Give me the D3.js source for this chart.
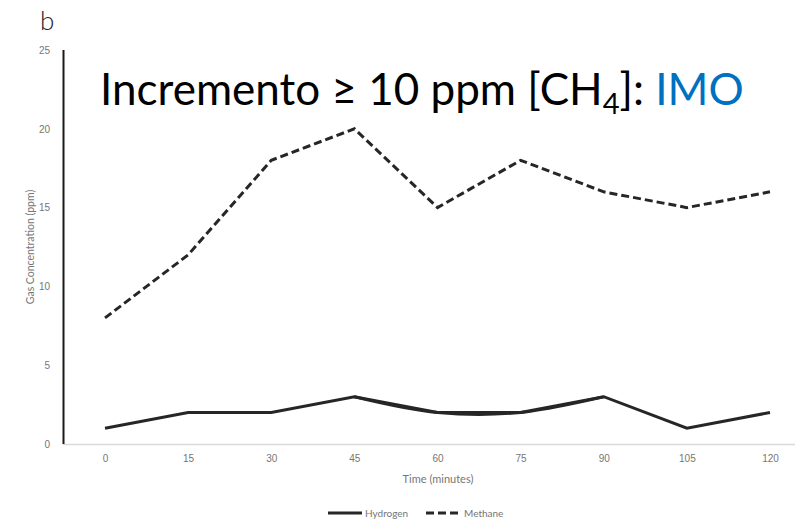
<!doctype html>
<html>
  <head>
    <script src="https://cdn.jsdelivr.net/npm/d3@7"></script>
    <style>
      body { margin: 0; background: #ffffff; }
      svg { font-family: Lato, "Open Sans", sans-serif; }
      .tick text { fill: #767676; font-size: 10px; }
    </style>
    <script>
      // データ
      var times = ["0", "15", "30", "45", "60", "75", "90", "105", "120"];
      var hydrogen = [1, 2, 2, 3, 2, 2, 3, 1, 2];
      var methane = [8, 12, 18, 20, 15, 18, 16, 15, 16];
      var yTicks = [0, 5, 10, 15, 20, 25];
      // 45〜90分の水素の重ね線（元画像の手描き風の重なり）
      var hydrogenOverlayIdx = [3, 4, 5, 6];
    </script>
  </head>
  <body>
    <svg id="chart"></svg>
    <script>
      var width = 795, height = 520;
      var svg = d3.select("#chart").attr("width", width).attr("height", height);

      var x = d3.scalePoint().domain(times).range([105, 770]);
      var y = d3.scaleLinear().domain([0, 25]).range([444, 50]);

      // x軸（薄い灰色の線）
      var xAxis = svg.append("g")
        .attr("transform", "translate(0,444)")
        .call(d3.axisBottom(x).tickSize(0).tickPadding(11));
      xAxis.select(".domain").remove();
      svg.append("line")
        .attr("x1", 63).attr("x2", 795)
        .attr("y1", 444.5).attr("y2", 444.5)
        .style("stroke", "#d9d9d9").style("stroke-width", 1.5);

      // y軸
      var yAxis = svg.append("g")
        .attr("transform", "translate(63,0)")
        .call(d3.axisLeft(y).tickValues(yTicks).tickSize(0).tickPadding(13));
      yAxis.select(".domain").remove();
      svg.append("line")
        .attr("x1", 63.5).attr("x2", 63.5)
        .attr("y1", y(25)).attr("y2", y(0))
        .style("stroke", "#1a1a1a").style("stroke-width", 2);

      // 軸タイトル
      svg.append("text")
        .attr("x", 438).attr("y", 483)
        .attr("text-anchor", "middle")
        .style("font-size", "11px").style("fill", "#767676")
        .text("Time (minutes)");
      svg.append("text")
        .attr("transform", "translate(34,247) rotate(-90)")
        .attr("text-anchor", "middle")
        .style("font-size", "10.5px").style("fill", "#767676")
        .text("Gas Concentration (ppm)");

      // 線
      var line = d3.line()
        .x(function(d, i) { return x(times[i]); })
        .y(function(d) { return y(d); });

      svg.append("path").datum(methane)
        .attr("d", line)
        .style("fill", "none").style("stroke", "#262626")
        .style("stroke-width", 3).style("stroke-dasharray", "8,4");

      svg.append("path").datum(hydrogen)
        .attr("d", line)
        .style("fill", "none").style("stroke", "#262626")
        .style("stroke-width", 3);

      var overlay = d3.line()
        .curve(d3.curveCatmullRom)
        .x(function(i) { return x(times[i]); })
        .y(function(i) { return y(hydrogen[i]); });
      svg.append("path").datum(hydrogenOverlayIdx)
        .attr("d", overlay)
        .style("fill", "none").style("stroke", "#262626")
        .style("stroke-width", 3);

      // 凡例
      var legend = svg.append("g").attr("transform", "translate(0,513)");
      legend.append("line").attr("x1", 328).attr("x2", 362).attr("y1", 0).attr("y2", 0)
        .style("stroke", "#262626").style("stroke-width", 3);
      legend.append("text").attr("x", 365).attr("y", 3.5)
        .style("font-size", "10px").style("fill", "#767676").text("Hydrogen");
      legend.append("line").attr("x1", 426).attr("x2", 459).attr("y1", 0).attr("y2", 0)
        .style("stroke", "#262626").style("stroke-width", 3).style("stroke-dasharray", "8,4");
      legend.append("text").attr("x", 464).attr("y", 3.5)
        .style("font-size", "10px").style("fill", "#767676").text("Methane");

      // パネルラベルと注釈
      svg.append("text").attr("x", 40).attr("y", 30)
        .style("font-size", "26px").style("font-weight", 300).style("fill", "#222").text("b");

      var note = svg.append("text").attr("x", 100).attr("y", 105)
        .style("font-size", "44px").style("fill", "#000");
      note.append("tspan").text("Incremento ≥ 10 ppm [CH");
      note.append("tspan").attr("dy", 9).style("font-size", "29px").text("4");
      note.append("tspan").attr("dy", -9).text("]: ");
      note.append("tspan").style("fill", "#0070c0").text("IMO");
    </script>
  </body>
</html>
